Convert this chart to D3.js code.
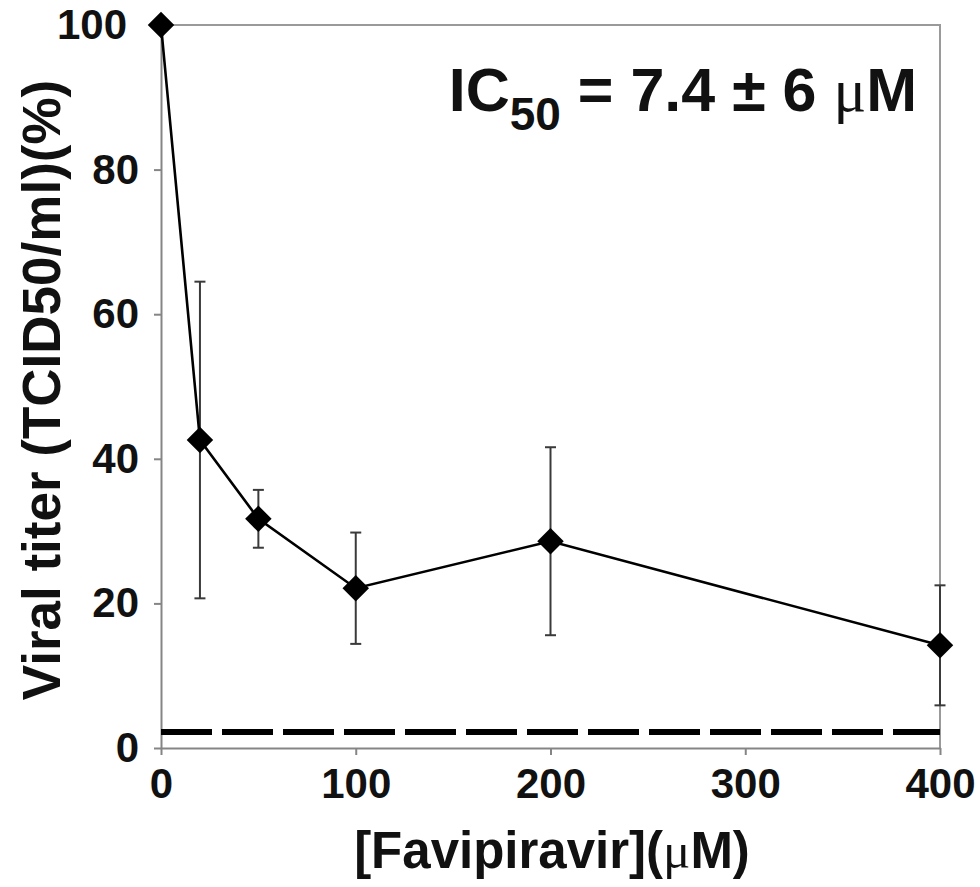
<!DOCTYPE html>
<html><head><meta charset="utf-8">
<script src="https://cdn.jsdelivr.net/npm/d3@7"></script>
<style>body{margin:0;background:#fff}</style>
</head><body>
<svg id="c" width="980" height="887"></svg>
<script>
// ---- data ----
const doses = [0, 20, 50, 100, 200, 400];
const titer = [100, 42.6, 31.7, 22.1, 28.6, 14.2];
const errors = [0, 21.9, 4.0, 7.7, 13.0, 8.3];
const xTicks = [0, 100, 200, 300, 400];
const yTicks = [0, 20, 40, 60, 80, 100];
const detectionLimit = 2.2;
const xTitle = "[Favipiravir](";
const yTitle = "Viral titer (TCID50/ml)(%)";

// ---- chart ----
const svg = d3.select('#c');
const font = '"Liberation Sans", Arial, Helvetica, sans-serif';
const serif = '"Liberation Serif", "DejaVu Serif", serif';
const x = d3.scaleLinear().domain([0, 400]).range([161, 940]);
const y = d3.scaleLinear().domain([0, 100]).range([748, 25]);
const axisColor = '#858585';

// top/right frame
svg.append('path')
  .attr('d', `M${x(0)},${y(100)}H${x(400)}V${y(0)}`)
  .attr('fill', 'none').attr('stroke', '#9a9a9a').attr('stroke-width', 2);

// y axis
const gy = svg.append('g').attr('transform', `translate(${x(0)},0)`)
  .call(d3.axisLeft(y).tickValues(yTicks).tickSize(7).tickSizeOuter(0).tickPadding(15));
// x axis
const gx = svg.append('g').attr('transform', `translate(0,${y(0)})`)
  .call(d3.axisBottom(x).tickValues(xTicks).tickSize(7).tickSizeOuter(0).tickPadding(13));

[gx, gy].forEach(g => {
  g.select('.domain').attr('stroke', axisColor).attr('stroke-width', 2);
  g.selectAll('.tick line').attr('stroke', axisColor).attr('stroke-width', 2);
  g.selectAll('.tick text').attr('fill', '#111')
    .style('font-family', font).style('font-weight', 'bold').style('font-size', '42px');
});
gy.selectAll('.tick text').filter(d => d === 100).attr('dx', -12);

// detection limit dashed line
svg.append('line')
  .attr('x1', x(0)).attr('x2', x(400))
  .attr('y1', y(detectionLimit)).attr('y2', y(detectionLimit))
  .attr('stroke', '#000').attr('stroke-width', 6).attr('stroke-dasharray', '51,10');

const pts = doses.map((d, i) => ({ d, v: titer[i], e: errors[i] }));

// error bars
const eb = svg.append('g').attr('stroke', '#3a3a3a').attr('stroke-width', 2);
pts.filter(p => p.e > 0).forEach(p => {
  eb.append('line').attr('x1', x(p.d)).attr('x2', x(p.d)).attr('y1', y(p.v - p.e)).attr('y2', y(p.v + p.e));
  [p.v - p.e, p.v + p.e].forEach(v => {
    eb.append('line').attr('x1', x(p.d) - 5.5).attr('x2', x(p.d) + 5.5).attr('y1', y(v)).attr('y2', y(v));
  });
});

// line
svg.append('path').datum(pts)
  .attr('d', d3.line().x(p => x(p.d)).y(p => y(p.v)))
  .attr('fill', 'none').attr('stroke', '#000').attr('stroke-width', 2.6);

// diamonds
svg.append('g').selectAll('path').data(pts).join('path')
  .attr('d', d3.symbol(d3.symbolSquare, 350))
  .attr('transform', p => `translate(${x(p.d)},${y(p.v)}) rotate(45)`)
  .attr('fill', '#000');

// IC50 annotation
const ann = svg.append('text').attr('x', 917).attr('y', 111).attr('text-anchor', 'end')
  .style('font-family', font).style('font-weight', 'bold').style('font-size', '61px').attr('fill', '#111');
ann.append('tspan').text('IC');
ann.append('tspan').attr('dy', 19).style('font-size', '46px').text('50');
ann.append('tspan').attr('dy', -19).text(' = 7.4 \u00b1 6 ');
ann.append('tspan').style('font-family', serif).style('font-weight', 'normal').text('\u03bc');
ann.append('tspan').text('M');

// x title
const xt = svg.append('text').attr('x', 552).attr('y', 868).attr('text-anchor', 'middle')
  .style('font-family', font).style('font-weight', 'bold').style('font-size', '51px').attr('fill', '#111');
xt.append('tspan').text(xTitle);
xt.append('tspan').style('font-family', serif).style('font-weight', 'normal').text('\u03bc');
xt.append('tspan').text('M)');

// y title
svg.append('text').attr('transform', 'translate(60,390) rotate(-90)').attr('text-anchor', 'middle')
  .style('font-family', font).style('font-weight', 'bold').style('font-size', '53px').attr('fill', '#111')
  .text(yTitle);
</script>
</body></html>
